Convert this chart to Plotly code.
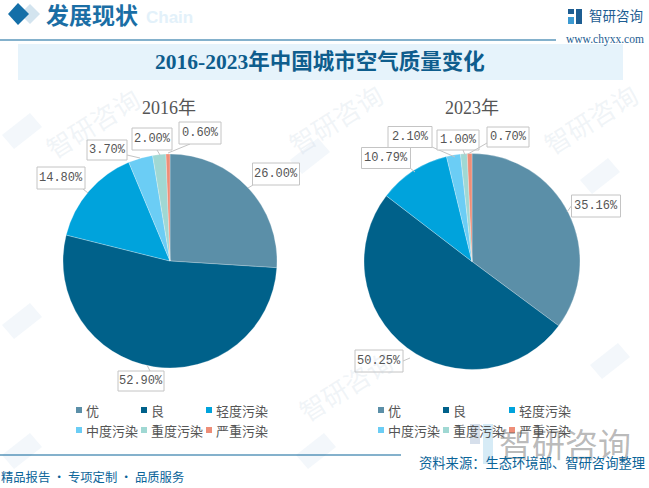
import plotly.graph_objects as go

W, H = 649, 488
categories = ["优", "良", "轻度污染", "中度污染", "重度污染", "严重污染"]
values_2016 = [26.00, 52.90, 14.80, 3.70, 2.00, 0.60]
values_2023 = [35.16, 50.25, 10.79, 2.10, 1.00, 0.70]
title = "2016-2023年中国城市空气质量变化"
years = ["2016年", "2023年"]
colors = ["#5b8fa8", "#00618a", "#00a3dc", "#6bcdf5", "#a0d8d3", "#ee8e78"]

SERIF = "Liberation Serif, Noto Sans CJK SC"
MONO = "Liberation Mono, Noto Sans CJK SC"
SANS = "Noto Sans CJK SC"
BLUE = "#0a6499"


def px(x):
    return x / W


def py(y):
    return 1 - y / H


fig = go.Figure()
pies = [(values_2016, 170, 261, 107), (values_2023, 472, 261.5, 108)]
for vals, cx, cy, r in pies:
    fig.add_trace(go.Pie(
        labels=categories, values=vals, sort=False, direction="clockwise", rotation=0,
        marker=dict(colors=colors, line=dict(color="rgba(255,255,255,0.5)", width=0.5)),
        textinfo="none", hoverinfo="label+percent", showlegend=False,
        domain=dict(x=[px(cx - r), px(cx + r)], y=[py(cy + r), py(cy - r)]),
    ))

shapes, ann = [], []


def rect(x0, y0, x1, y1, fill, layer="below"):
    shapes.append(dict(type="rect", xref="paper", yref="paper", x0=px(x0), x1=px(x1), y0=py(y0), y1=py(y1),
                       fillcolor=fill, line=dict(width=0), layer=layer))


def line(x0, y0, x1, y1, color, width=1, layer="above"):
    shapes.append(dict(type="line", xref="paper", yref="paper", x0=px(x0), x1=px(x1), y0=py(y0), y1=py(y1),
                       line=dict(color=color, width=width), layer=layer))


def poly(pts, fill, layer="below"):
    path = "M" + " L".join(f"{px(a):.5f},{py(b):.5f}" for a, b in pts) + " Z"
    shapes.append(dict(type="path", xref="paper", yref="paper", path=path, fillcolor=fill, line=dict(width=0), layer=layer))


def text(x, y, s, size, color, font=SANS, anchor="left", bold=False, angle=0, **kw):
    ann.append(dict(xref="paper", yref="paper", x=px(x), y=py(y), text=f"<b>{s}</b>" if bold else s, showarrow=False,
                    xanchor=anchor, yanchor="middle", textangle=angle, align="center",
                    font=dict(size=size, color=color, family=font), **kw))


# faint watermarks behind the chart
WM = "rgba(190,205,220,0.22)"
for x, y in [(92, 122), (335, 118), (345, 385), (590, 118)]:
    text(x, y, "智研咨询", 26, WM, angle=-32, anchor="center")
for x, y in [(22, 130), (22, 320), (310, 155), (316, 450), (600, 175), (610, 360), (22, 450)]:
    poly([(x - 20, y + 5), (x + 8, y - 17), (x + 20, y - 3), (x - 8, y + 19)], "rgba(200,220,235,0.22)")

# header
text(195, 17, "Chain", 17, "#e3f1fa", font="Liberation Sans", anchor="right", bold=True)
poly([(20, 14), (30, 4), (40, 14), (30, 24)], "#d3e4ef")
poly([(8, 14), (18, 3), (29, 14), (18, 25)], "#146fa8")
text(44, 14, "发展现状", 23, "#1a6ea5", bold=True)
line(0, 40, 556, 40, BLUE, 1.2)
rect(568, 9, 574, 14, "#1d5d92", "above")
rect(576, 9, 582, 24, "#1d5d92", "above")
rect(568, 17, 574, 24, "#3c9ad2", "above")
text(587, 15, "智研咨询", 13.5, "#1d5d92")
text(605, 40, "www.chyxx.com", 11.5, "#1d5d92", font="Liberation Serif", anchor="center")

# title band
rect(18, 44, 623, 80, "#e6f3fb")
text(320, 62, title, 21.5, "#0e5d8d", font=SERIF, anchor="center", bold=True)
text(169, 108, years[0], 18, "#555555", font=SERIF, anchor="center")
text(472, 108, years[1], 18, "#555555", font=SERIF, anchor="center")

# value labels: (box centre x, centre y, width, height, leader start, leader end)
label_pos_2016 = [
    (276, 174, 47, 22, (253, 185), (248, 188)),
    (141, 381, 46, 20, (150, 371), (147, 365)),
    (61, 178, 48, 22, (83, 189), (88, 193)),
    (107, 150, 40, 20, (127, 155), (140, 158)),
    (152, 139, 40, 22, (157, 150), (160, 155)),
    (200, 133, 42, 22, (190, 144), (168, 153)),
]
label_pos_2023 = [
    (596, 206, 49, 22, (572, 205), (567, 212)),
    (379, 361, 48, 22, (403, 361), (410, 358)),
    (386, 158, 49, 21, (410, 168), (415, 172)),
    (410, 137, 44, 21, (432, 147), (455, 157)),
    (458, 140, 42, 20, (463, 150), (465, 155)),
    (508, 137, 42, 20, (487, 143), (468, 154)),
]
for vals, positions in [(values_2016, label_pos_2016), (values_2023, label_pos_2023)]:
    for v, (cx, cy, w, h, a, b) in zip(vals, positions):
        line(a[0], a[1], b[0], b[1], "#c4c4c4", 1)
        rect(cx - w / 2, cy - h / 2, cx + w / 2, cy + h / 2, "#ffffff", "above")
        shapes.append(dict(type="rect", xref="paper", yref="paper", x0=px(cx - w / 2), x1=px(cx + w / 2),
                           y0=py(cy - h / 2), y1=py(cy + h / 2), line=dict(color="#c4c4c4", width=1), layer="above"))
        text(cx, cy, f"{v:.2f}%", 12, "#555555", font=MONO, anchor="center")

# big watermark logo at lower right
rect(470, 424, 480, 444, "rgba(120,150,190,0.30)", "above")
rect(483, 424, 493, 464, "rgba(120,190,225,0.30)", "above")
text(497, 443, "智研咨询", 33, "rgba(90,90,90,0.42)")

# legends
legend_cols = [[76, 141, 206], [378, 443, 509]]
legend_rows = [410, 430]
for cols in legend_cols:
    for i, (cat, col) in enumerate(zip(categories, colors)):
        x = cols[i % 3]
        y = legend_rows[i // 3]
        rect(x, y - 3, x + 6, y + 3, col, "above")
        text(x + 8, y, cat, 13, "#555555")

# footer
line(0, 455, 401, 455, BLUE, 1.2)
text(417, 462, "资料来源：生态环境部、智研咨询整理", 13.3, BLUE)
text(-1, 477, "精品报告 · 专项定制 · 品质服务", 12.3, BLUE)

fig.update_layout(width=W, height=H, margin=dict(l=0, r=0, t=0, b=0), paper_bgcolor="white", plot_bgcolor="white",
                  showlegend=False, shapes=shapes, annotations=ann)
fig.write_html("out.html", config=dict(displayModeBar=False),
               post_script="document.body.style.margin='0';document.body.style.overflow='hidden';")
